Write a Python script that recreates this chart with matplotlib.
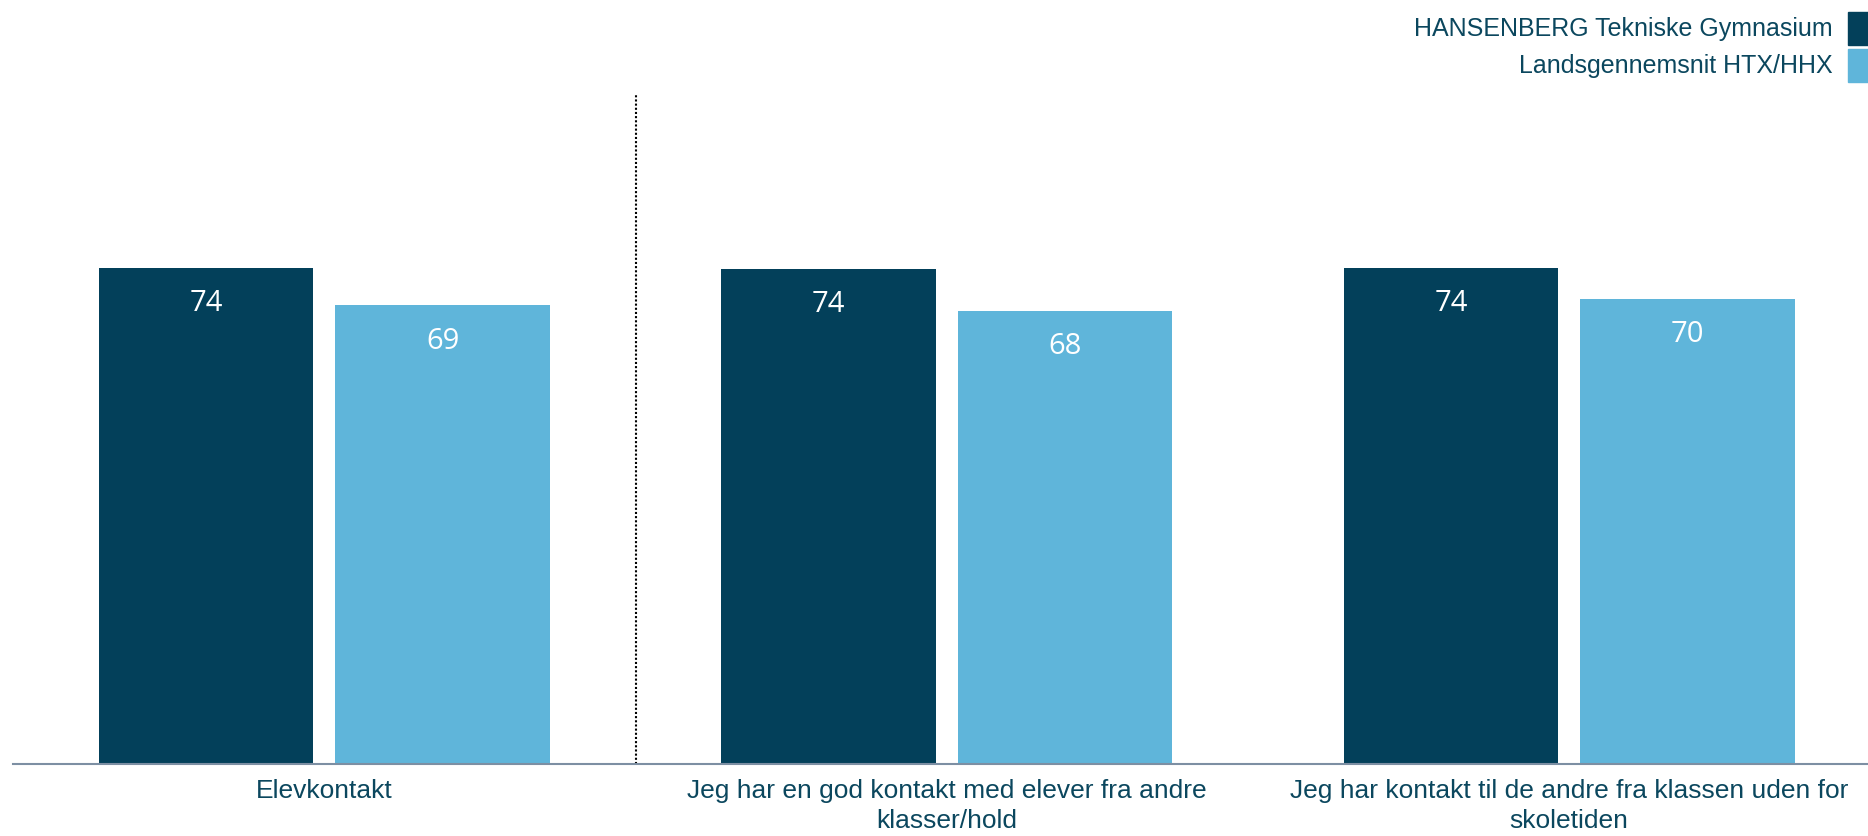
import numpy as np
import matplotlib
matplotlib.use('Agg')
import matplotlib.pyplot as plt
from matplotlib.patches import Rectangle

categories = ['Elevkontakt',
              'Jeg har en god kontakt med elever fra andre\nklasser/hold',
              'Jeg har kontakt til de andre fra klassen uden for\nskoletiden']
series_names = ['HANSENBERG Tekniske Gymnasium', 'Landsgennemsnit HTX/HHX']
school = [74.2, 74.1, 74.2]
national = [68.6, 67.8, 69.6]

dark = '#03405a'
light = '#5fb5da'
text_col = '#0b475e'

plt.rcParams['font.family'] = ['Liberation Sans', 'DejaVu Sans']

fig = plt.figure(figsize=(18.68, 8.36), dpi=100)
ax = fig.add_axes([0.007, 0.086, 0.993, 0.800])

x = np.arange(len(categories))
w = 0.345
off = 0.19
b1 = ax.bar(x - off, school, w, color=dark)
b2 = ax.bar(x + off, national, w, color=light)

for bars in (b1, b2):
    for b in bars:
        v = b.get_height()
        ax.annotate(f'{round(v)}', (b.get_x() + b.get_width() / 2, v),
                    xytext=(0, -26), textcoords='offset points',
                    ha='center', va='center', color='white', fontsize=21,
                    family=['Open Sans', 'DejaVu Sans'])

ax.axvline(0.5, color='black', linestyle=(0, (1, 1)), linewidth=1.5)

ax.set_ylim(0, 100)
ax.set_xlim(-0.5, 2.48)
ax.set_yticks([])
ax.set_xticks(x)
ax.set_xticklabels(categories, fontsize=19, color=text_col, linespacing=1.3)
ax.tick_params(axis='x', length=0, pad=11)
for s in ['top', 'right', 'left']:
    ax.spines[s].set_visible(False)
ax.spines['bottom'].set_color('#7d8fa3')
ax.spines['bottom'].set_linewidth(1.5)

# legend drawn by hand at top right
for i, (name, col) in enumerate(zip(series_names, [dark, light])):
    y0 = 1 - (12 + i * 37 + 33) / 836
    fig.patches.append(Rectangle((1848 / 1868, y0), 20 / 1868, 33 / 836,
                                 transform=fig.transFigure, color=col))
    fig.text(1833 / 1868, y0 + 16 / 836, name, ha='right', va='center',
             fontsize=18, color=text_col)

fig.savefig('out.png', dpi=100)
